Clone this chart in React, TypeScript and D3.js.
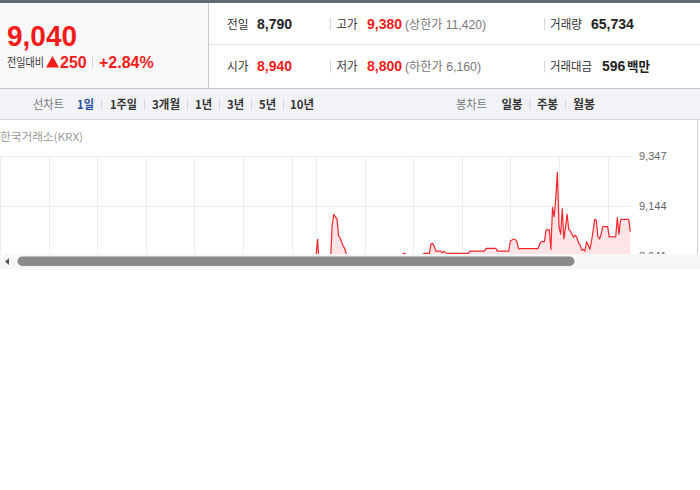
import React from "react";
import * as d3 from "d3";

// ---------- data ----------
const currentPrice = "9,040";
const changeLabel = "전일대비";
const changeAbs = "250";
const changePct = "+2.84%";

const row1 = { prevLabel: "전일", prev: "8,790", highLabel: "고가", high: "9,380", upper: "(상한가 11,420)", volLabel: "거래량", vol: "65,734" };
const row2 = { openLabel: "시가", open: "8,940", lowLabel: "저가", low: "8,800", lower: "(하한가 6,160)", amtLabel: "거래대금", amt: "596", amtUnit: "백만" };

const lineTabs = ["1일", "1주일", "3개월", "1년", "3년", "5년", "10년"];
const candleTabs = ["일봉", "주봉", "월봉"];
const sourceLabel = "한국거래소(KRX)";

// minutes from 09:00 open
const gridMinutes = [-195, -165, -135, -105, -75, -45, -15, 0, 30, 60, 90, 120, 150, 180];
const yTicks = [9347, 9144, 8941];
const xDomain = [-195, 194];
const yDomain = [8941, 9347];

const prices = [
  8940, 9009, 8900, 8880, 8870, 8890, 8860, 8880, 8900, 8920,
  9067, 9110, 9100, 9091, 9022, 9013, 8995, 8979, 8968, 8940,
  8920, 8900, 8880, 8860, 8850, 8830, 8820, 8800, 8810, 8830,
  8850, 8870, 8860, 8880, 8890, 8900, 8910, 8900, 8890, 8900,
  8910, 8920, 8930, 8920, 8910, 8920, 8930, 8940, 8930, 8920,
  8930, 8940, 8945, 8940, 8952, 8952, 8935, 8930, 8920, 8925,
  8930, 8935, 8940, 8945, 8940, 8945, 8948, 8952, 8952, 8952,
  8952, 8990, 8992, 8980, 8961, 8961, 8961, 8961, 8954, 8961,
  8954, 8952, 8952, 8952, 8952, 8952, 8952, 8952, 8952, 8952,
  8952, 8952, 8952, 8952, 8952, 8961, 8961, 8961, 8961, 8961,
  8961, 8961, 8961, 8961, 8961, 8972, 8972, 8972, 8972, 8972,
  8972, 8972, 8961, 8961, 8961, 8961, 8961, 8961, 8961, 8961,
  9003, 9006, 9010, 9008, 8999, 8971, 8971, 8971, 8971, 8971,
  8971, 8971, 8971, 8971, 8971, 8971, 8971, 8971, 8988, 8999,
  8999, 8999, 9047, 9047, 9047, 8968, 9139, 9101, 9175, 9281,
  9060, 9030, 9133, 9010, 9057, 9110, 9050, 9042, 9030, 9017,
  9026, 9017, 8995, 8985, 8965, 8968, 8961, 8999, 8986, 8968,
  8999, 9040, 9090, 9085, 9020, 9010, 9030, 9060, 9060, 9060,
  9060, 9019, 9019, 9019, 9019, 9019, 9097, 9030, 9087, 9090,
  9090, 9090, 9090, 9090, 9040,
];

// ---------- layout ----------
const W = 700;
const H = 490;
const FONT = "'Liberation Sans', Arial, 'Noto Sans CJK KR', sans-serif";
const KFONT = "'Noto Sans CJK KR', 'Liberation Sans', sans-serif";
const RED = "#f51b1b";

const plot = { left: 0, right: 630.3, top: 156, bottom: 256, clipBottom: 254 };

const lineTabX = [77, 110, 152, 195, 227, 259, 290];
const lineTabW = [17, 27, 28, 17, 17, 17, 24];
const candleTabX = [501.5, 537, 573];
const candleTabW = [21, 21, 22];

export default function App() {
  const x = d3.scaleLinear().domain(xDomain).range([plot.left, plot.right]);
  const y = d3.scaleLinear().domain(yDomain).range([plot.bottom, plot.top]);
  const data = prices.map((p, i) => ({ m: i, p }));
  const line = d3.line<{ m: number; p: number }>().x((d) => x(d.m)).y((d) => y(d.p));
  const area = d3
    .area<{ m: number; p: number }>()
    .x((d) => x(d.m))
    .y0(320)
    .y1((d) => y(d.p));
  const fmt = d3.format(",");

  const sep = (sx: number, y1: number, y2: number, key: string) => (
    <line key={key} x1={sx} x2={sx} y1={y1} y2={y2} stroke="#d6d6d6" strokeWidth={1} />
  );

  return (
    <div style={{ position: "absolute", left: 0, top: 0, width: W, height: H, background: "#fff" }}>
      <svg width={W} height={H} style={{ display: "block" }} fontFamily={FONT}>
        <defs>
          <clipPath id="plotClip">
            <rect x={0} y={140} width={W} height={plot.clipBottom - 140} />
          </clipPath>
        </defs>
        <rect width={W} height={H} fill="#fff" />

        {/* top strip */}
        <rect x={0} y={0} width={W} height={3} fill="#636a76" />

        {/* left price box */}
        <rect x={0} y={3} width={208} height={85} fill="#f9f9f9" />
        <line x1={208.5} x2={208.5} y1={3} y2={88} stroke="#c9c9c9" />
        <text x={7} y={46} fontSize={29} fontWeight="bold" fill={RED} textLength={70} lengthAdjust="spacingAndGlyphs">
          {currentPrice}
        </text>
        <text x={7} y={67} fontSize={12} fill="#333" fontFamily={KFONT} textLength={37} lengthAdjust="spacingAndGlyphs">
          {changeLabel}
        </text>
        <polygon points="46,67.5 59,67.5 52.5,56" fill={RED} />
        <text x={60} y={67.5} fontSize={16} fontWeight="bold" fill={RED}>
          {changeAbs}
        </text>
        {sep(92.5, 57, 68, "s0")}
        <text x={99} y={67.5} fontSize={16} fontWeight="bold" fill={RED}>
          {changePct}
        </text>

        {/* right info rows */}
        <line x1={209} x2={W} y1={44.5} y2={44.5} stroke="#e6e6e6" />
        <g fontSize={12.5}>
          <text x={227} y={28.5} fill="#333" fontFamily={KFONT} textLength={21.5} lengthAdjust="spacingAndGlyphs">{row1.prevLabel}</text>
          <text x={257} y={28.5} fontSize={14} fontWeight="bold" fill="#222">{row1.prev}</text>
          {sep(330.5, 18, 30, "s1")}
          <text x={336.5} y={28.5} fill="#333" fontFamily={KFONT} textLength={21} lengthAdjust="spacingAndGlyphs">{row1.highLabel}</text>
          <text x={367} y={28.5} fontSize={14} fontWeight="bold" fill={RED}>{row1.high}</text>
          <text x={405} y={28.5} fontSize={12} fill="#777" textLength={81} lengthAdjust="spacingAndGlyphs">{row1.upper}</text>
          {sep(544.5, 18, 30, "s2")}
          <text x={550} y={28.5} fill="#333" fontFamily={KFONT} textLength={32} lengthAdjust="spacingAndGlyphs">{row1.volLabel}</text>
          <text x={591} y={28.5} fontSize={14} fontWeight="bold" fill="#222">{row1.vol}</text>

          <text x={227} y={71} fill="#333" fontFamily={KFONT} textLength={21.5} lengthAdjust="spacingAndGlyphs">{row2.openLabel}</text>
          <text x={257} y={71} fontSize={14} fontWeight="bold" fill={RED}>{row2.open}</text>
          {sep(330.5, 60.5, 72.5, "s3")}
          <text x={336.5} y={71} fill="#333" fontFamily={KFONT} textLength={21} lengthAdjust="spacingAndGlyphs">{row2.lowLabel}</text>
          <text x={367} y={71} fontSize={14} fontWeight="bold" fill={RED}>{row2.low}</text>
          <text x={405} y={71} fontSize={12} fill="#777" textLength={76} lengthAdjust="spacingAndGlyphs">{row2.lower}</text>
          {sep(544.5, 60.5, 72.5, "s4")}
          <text x={550} y={71} fill="#333" fontFamily={KFONT} textLength={42} lengthAdjust="spacingAndGlyphs">{row2.amtLabel}</text>
          <text x={602} y={71} fontSize={14} fontWeight="bold" fill="#222">{row2.amt}</text>
          <text x={627} y={71} fontSize={13} fontWeight="bold" fill="#222" fontFamily={KFONT} textLength={23} lengthAdjust="spacingAndGlyphs">{row2.amtUnit}</text>
        </g>

        {/* header bottom + tab bar */}
        <rect x={0} y={88.5} width={W} height={31} fill="#f2f3f7" />
        <line x1={0} x2={W} y1={88.5} y2={88.5} stroke="#c6c6c6" />
        <line x1={0} x2={W} y1={119.5} y2={119.5} stroke="#d3d3d3" />
        <g fontSize={12} fontFamily={KFONT}>
          <text x={33} y={109} fill="#777" textLength={31} lengthAdjust="spacingAndGlyphs">선차트</text>
          {lineTabs.map((t, i) => (
            <g key={t}>
              <text
                x={lineTabX[i]}
                y={109}
                fontWeight="bold"
                fill={i === 0 ? "#2c4d9e" : "#333"}
                textLength={lineTabW[i]}
                lengthAdjust="spacingAndGlyphs"
              >
                {t}
              </text>
              {i < lineTabs.length - 1 && sep(lineTabX[i] + lineTabW[i] + 7.5, 99, 110, "ls" + i)}
            </g>
          ))}
          <text x={456} y={109} fill="#777" textLength={31} lengthAdjust="spacingAndGlyphs">봉차트</text>
          {candleTabs.map((t, i) => (
            <g key={t}>
              <text x={candleTabX[i]} y={109} fontWeight="bold" fill="#333" textLength={candleTabW[i]} lengthAdjust="spacingAndGlyphs">
                {t}
              </text>
              {i < candleTabs.length - 1 && sep(candleTabX[i] + candleTabW[i] + 7.5, 99, 110, "cs" + i)}
            </g>
          ))}
        </g>

        {/* source label */}
        <text x={0} y={141} fontSize={11} fill="#9a9a9a" fontFamily={KFONT} textLength={83} lengthAdjust="spacingAndGlyphs">
          {sourceLabel}
        </text>

        {/* chart */}
        <g clipPath="url(#plotClip)">
          {yTicks.map((t) => (
            <line key={"h" + t} x1={plot.left} x2={plot.right} y1={Math.round(y(t)) + 0.5} y2={Math.round(y(t)) + 0.5} stroke="#ececec" />
          ))}
          {gridMinutes.map((m) => (
            <line key={"v" + m} x1={Math.round(x(m)) + 0.5} x2={Math.round(x(m)) + 0.5} y1={plot.top} y2={300} stroke="#ececec" />
          ))}
          <path d={area(data) || ""} fill="#fde4e7" />
          <path d={line(data) || ""} fill="none" stroke="#f4262c" strokeWidth={1.2} strokeLinejoin="round" />
          {yTicks.map((t) => (
            <text key={"l" + t} x={639} y={y(t) + 4} fontSize={11} fill="#666">
              {fmt(t)}
            </text>
          ))}
        </g>
        <line x1={697.5} x2={697.5} y1={120} y2={plot.clipBottom} stroke="#d2d2d2" />

        {/* scrollbar */}
        <rect x={0} y={plot.clipBottom} width={W} height={15} fill="#f7f7f7" />
        <polygon points="5,261.5 9,258 9,265" fill="#555" />
        <rect x={17.5} y={256.5} width={557} height={9.5} rx={4.75} fill="#8a8a8a" />
      </svg>
    </div>
  );
}
